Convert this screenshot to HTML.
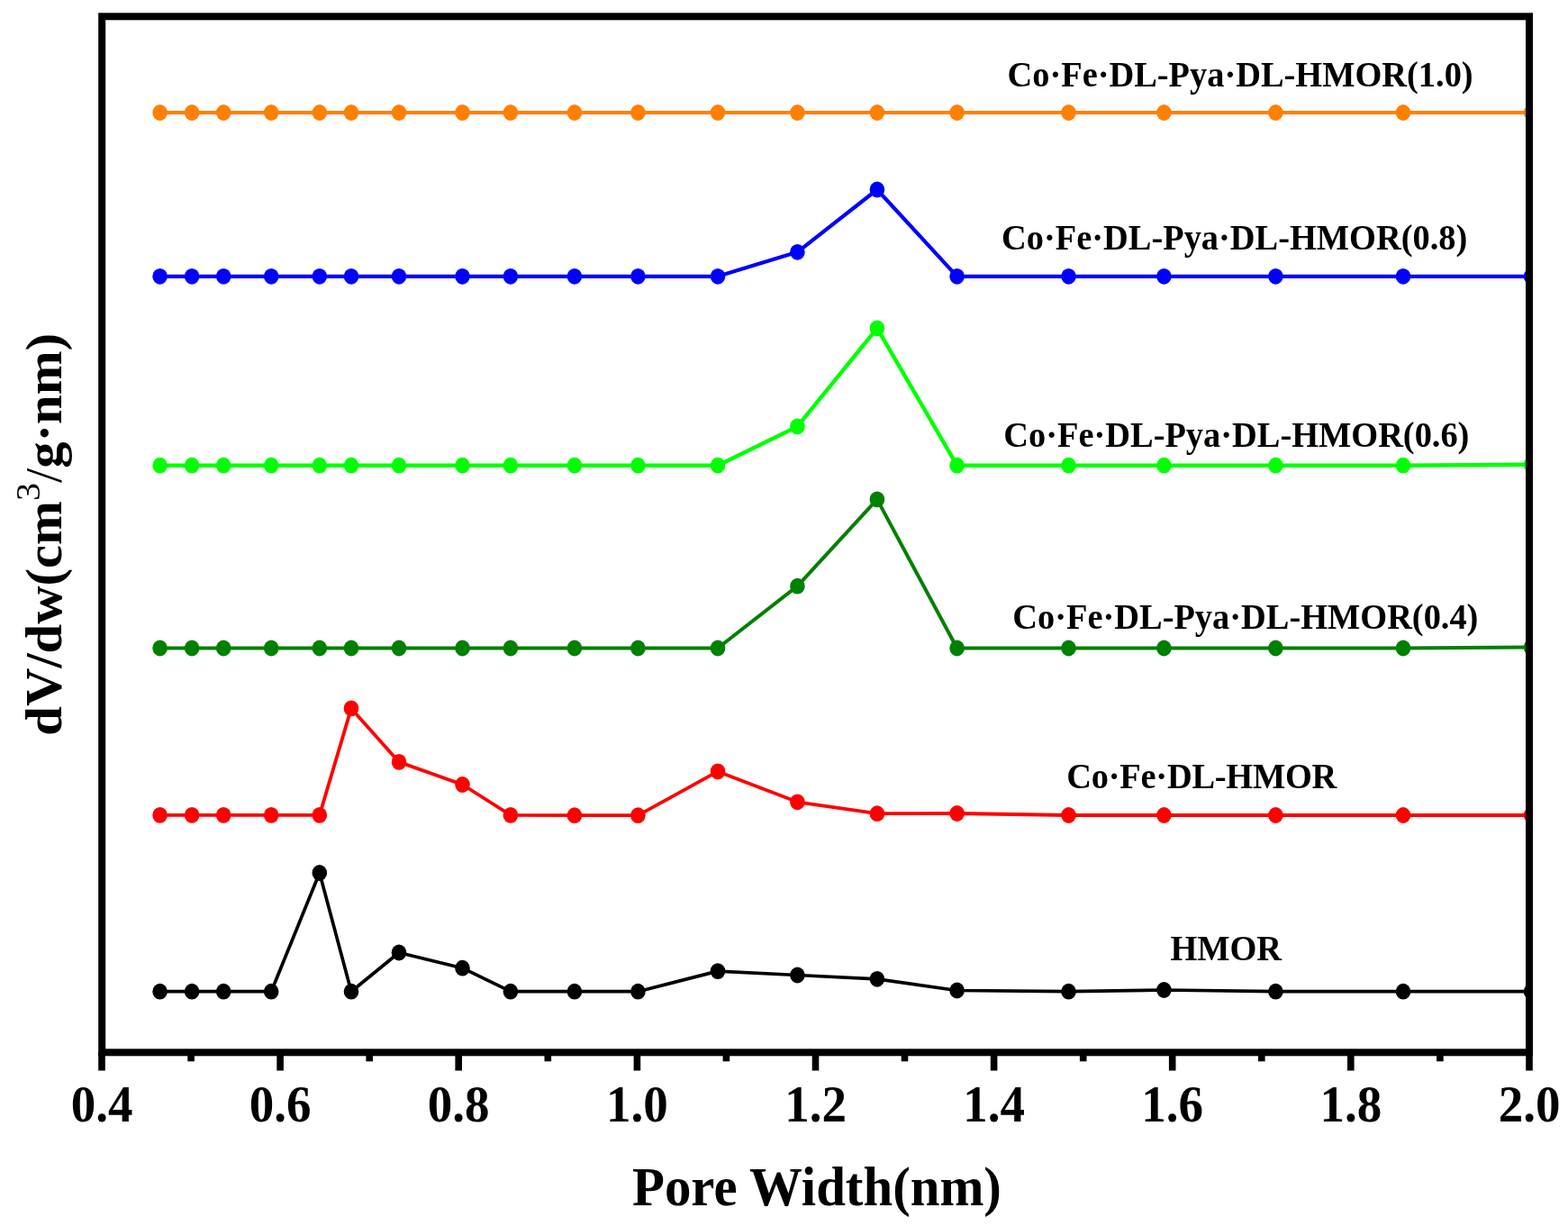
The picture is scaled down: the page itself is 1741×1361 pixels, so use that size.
<!DOCTYPE html>
<html><head><meta charset="utf-8"><style>
html,body{margin:0;padding:0;background:#fff;width:1741px;height:1361px;overflow:hidden}
svg{display:block}
text{font-family:"Liberation Serif","Times New Roman",serif;font-weight:bold;fill:#000}
</style></head><body>
<svg width="1741" height="1361" viewBox="0 0 1741 1361">
<clipPath id="c"><rect x="113" y="18" width="1585" height="1150"/></clipPath>
<g clip-path="url(#c)">
<polyline points="177.6,125.0 213.1,125.0 248.2,125.0 301.2,125.0 354.8,125.0 390.0,125.0 443.0,125.0 513.5,125.0 566.9,125.0 637.9,125.0 708.4,125.0 797.0,125.0 885.4,125.0 973.9,125.0 1062.6,125.0 1186.5,125.0 1292.4,125.0 1416.4,125.0 1558.0,125.0 1700.0,125.0" fill="none" stroke="#ff8000" stroke-width="4.0" stroke-linejoin="round"/>
<g fill="#ff8000"><ellipse cx="177.6" cy="125.0" rx="8.3" ry="8.9"/><ellipse cx="213.1" cy="125.0" rx="8.3" ry="8.9"/><ellipse cx="248.2" cy="125.0" rx="8.3" ry="8.9"/><ellipse cx="301.2" cy="125.0" rx="8.3" ry="8.9"/><ellipse cx="354.8" cy="125.0" rx="8.3" ry="8.9"/><ellipse cx="390.0" cy="125.0" rx="8.3" ry="8.9"/><ellipse cx="443.0" cy="125.0" rx="8.3" ry="8.9"/><ellipse cx="513.5" cy="125.0" rx="8.3" ry="8.9"/><ellipse cx="566.9" cy="125.0" rx="8.3" ry="8.9"/><ellipse cx="637.9" cy="125.0" rx="8.3" ry="8.9"/><ellipse cx="708.4" cy="125.0" rx="8.3" ry="8.9"/><ellipse cx="797.0" cy="125.0" rx="8.3" ry="8.9"/><ellipse cx="885.4" cy="125.0" rx="8.3" ry="8.9"/><ellipse cx="973.9" cy="125.0" rx="8.3" ry="8.9"/><ellipse cx="1062.6" cy="125.0" rx="8.3" ry="8.9"/><ellipse cx="1186.5" cy="125.0" rx="8.3" ry="8.9"/><ellipse cx="1292.4" cy="125.0" rx="8.3" ry="8.9"/><ellipse cx="1416.4" cy="125.0" rx="8.3" ry="8.9"/><ellipse cx="1558.0" cy="125.0" rx="8.3" ry="8.9"/><ellipse cx="1700.0" cy="125.0" rx="8.3" ry="8.9"/></g>
<polyline points="177.6,306.8 213.1,306.8 248.2,306.8 301.2,306.8 354.8,306.8 390.0,306.8 443.0,306.8 513.5,306.8 566.9,306.8 637.9,306.8 708.4,306.8 797.0,306.8 885.4,279.8 973.9,210.5 1062.6,306.8 1186.5,306.8 1292.4,306.8 1416.4,306.8 1558.0,306.8 1700.0,306.8" fill="none" stroke="#0000ff" stroke-width="4.2" stroke-linejoin="round"/>
<g fill="#0000ff"><ellipse cx="177.6" cy="306.8" rx="8.3" ry="8.9"/><ellipse cx="213.1" cy="306.8" rx="8.3" ry="8.9"/><ellipse cx="248.2" cy="306.8" rx="8.3" ry="8.9"/><ellipse cx="301.2" cy="306.8" rx="8.3" ry="8.9"/><ellipse cx="354.8" cy="306.8" rx="8.3" ry="8.9"/><ellipse cx="390.0" cy="306.8" rx="8.3" ry="8.9"/><ellipse cx="443.0" cy="306.8" rx="8.3" ry="8.9"/><ellipse cx="513.5" cy="306.8" rx="8.3" ry="8.9"/><ellipse cx="566.9" cy="306.8" rx="8.3" ry="8.9"/><ellipse cx="637.9" cy="306.8" rx="8.3" ry="8.9"/><ellipse cx="708.4" cy="306.8" rx="8.3" ry="8.9"/><ellipse cx="797.0" cy="306.8" rx="8.3" ry="8.9"/><ellipse cx="885.4" cy="279.8" rx="8.3" ry="8.9"/><ellipse cx="973.9" cy="210.5" rx="8.3" ry="8.9"/><ellipse cx="1062.6" cy="306.8" rx="8.3" ry="8.9"/><ellipse cx="1186.5" cy="306.8" rx="8.3" ry="8.9"/><ellipse cx="1292.4" cy="306.8" rx="8.3" ry="8.9"/><ellipse cx="1416.4" cy="306.8" rx="8.3" ry="8.9"/><ellipse cx="1558.0" cy="306.8" rx="8.3" ry="8.9"/><ellipse cx="1700.0" cy="306.8" rx="8.3" ry="8.9"/></g>
<polyline points="177.6,516.7 213.1,516.7 248.2,516.7 301.2,516.7 354.8,516.7 390.0,516.7 443.0,516.7 513.5,516.7 566.9,516.7 637.9,516.7 708.4,516.7 797.0,516.7 885.4,473.4 973.9,364.4 1062.6,516.7 1186.5,516.7 1292.4,516.7 1416.4,516.7 1558.0,516.7 1700.0,515.8" fill="none" stroke="#00ff00" stroke-width="4.4" stroke-linejoin="round"/>
<g fill="#00ff00"><ellipse cx="177.6" cy="516.7" rx="8.3" ry="8.9"/><ellipse cx="213.1" cy="516.7" rx="8.3" ry="8.9"/><ellipse cx="248.2" cy="516.7" rx="8.3" ry="8.9"/><ellipse cx="301.2" cy="516.7" rx="8.3" ry="8.9"/><ellipse cx="354.8" cy="516.7" rx="8.3" ry="8.9"/><ellipse cx="390.0" cy="516.7" rx="8.3" ry="8.9"/><ellipse cx="443.0" cy="516.7" rx="8.3" ry="8.9"/><ellipse cx="513.5" cy="516.7" rx="8.3" ry="8.9"/><ellipse cx="566.9" cy="516.7" rx="8.3" ry="8.9"/><ellipse cx="637.9" cy="516.7" rx="8.3" ry="8.9"/><ellipse cx="708.4" cy="516.7" rx="8.3" ry="8.9"/><ellipse cx="797.0" cy="516.7" rx="8.3" ry="8.9"/><ellipse cx="885.4" cy="473.4" rx="8.3" ry="8.9"/><ellipse cx="973.9" cy="364.4" rx="8.3" ry="8.9"/><ellipse cx="1062.6" cy="516.7" rx="8.3" ry="8.9"/><ellipse cx="1186.5" cy="516.7" rx="8.3" ry="8.9"/><ellipse cx="1292.4" cy="516.7" rx="8.3" ry="8.9"/><ellipse cx="1416.4" cy="516.7" rx="8.3" ry="8.9"/><ellipse cx="1558.0" cy="516.7" rx="8.3" ry="8.9"/><ellipse cx="1700.0" cy="515.8" rx="8.3" ry="8.9"/></g>
<polyline points="177.6,719.5 213.1,719.5 248.2,719.5 301.2,719.5 354.8,719.5 390.0,719.5 443.0,719.5 513.5,719.5 566.9,719.5 637.9,719.5 708.4,719.5 797.0,719.5 885.4,650.7 973.9,554.4 1062.6,719.5 1186.5,719.5 1292.4,719.5 1416.4,719.5 1558.0,719.5 1700.0,718.6" fill="none" stroke="#008000" stroke-width="4.0" stroke-linejoin="round"/>
<g fill="#008000"><ellipse cx="177.6" cy="719.5" rx="8.3" ry="8.9"/><ellipse cx="213.1" cy="719.5" rx="8.3" ry="8.9"/><ellipse cx="248.2" cy="719.5" rx="8.3" ry="8.9"/><ellipse cx="301.2" cy="719.5" rx="8.3" ry="8.9"/><ellipse cx="354.8" cy="719.5" rx="8.3" ry="8.9"/><ellipse cx="390.0" cy="719.5" rx="8.3" ry="8.9"/><ellipse cx="443.0" cy="719.5" rx="8.3" ry="8.9"/><ellipse cx="513.5" cy="719.5" rx="8.3" ry="8.9"/><ellipse cx="566.9" cy="719.5" rx="8.3" ry="8.9"/><ellipse cx="637.9" cy="719.5" rx="8.3" ry="8.9"/><ellipse cx="708.4" cy="719.5" rx="8.3" ry="8.9"/><ellipse cx="797.0" cy="719.5" rx="8.3" ry="8.9"/><ellipse cx="885.4" cy="650.7" rx="8.3" ry="8.9"/><ellipse cx="973.9" cy="554.4" rx="8.3" ry="8.9"/><ellipse cx="1062.6" cy="719.5" rx="8.3" ry="8.9"/><ellipse cx="1186.5" cy="719.5" rx="8.3" ry="8.9"/><ellipse cx="1292.4" cy="719.5" rx="8.3" ry="8.9"/><ellipse cx="1416.4" cy="719.5" rx="8.3" ry="8.9"/><ellipse cx="1558.0" cy="719.5" rx="8.3" ry="8.9"/><ellipse cx="1700.0" cy="718.6" rx="8.3" ry="8.9"/></g>
<polyline points="177.6,904.9 213.1,904.9 248.2,904.9 301.2,904.9 354.8,904.9 390.0,786.4 443.0,845.9 513.5,871.0 566.9,904.9 637.9,905.2 708.4,905.2 797.0,856.4 885.4,890.3 973.9,903.2 1062.6,903.0 1186.5,905.0 1292.4,905.0 1416.4,905.0 1558.0,905.0 1700.0,905.0" fill="none" stroke="#ff0000" stroke-width="3.8" stroke-linejoin="round"/>
<g fill="#ff0000"><ellipse cx="177.6" cy="904.9" rx="8.3" ry="8.9"/><ellipse cx="213.1" cy="904.9" rx="8.3" ry="8.9"/><ellipse cx="248.2" cy="904.9" rx="8.3" ry="8.9"/><ellipse cx="301.2" cy="904.9" rx="8.3" ry="8.9"/><ellipse cx="354.8" cy="904.9" rx="8.3" ry="8.9"/><ellipse cx="390.0" cy="786.4" rx="8.3" ry="8.9"/><ellipse cx="443.0" cy="845.9" rx="8.3" ry="8.9"/><ellipse cx="513.5" cy="871.0" rx="8.3" ry="8.9"/><ellipse cx="566.9" cy="904.9" rx="8.3" ry="8.9"/><ellipse cx="637.9" cy="905.2" rx="8.3" ry="8.9"/><ellipse cx="708.4" cy="905.2" rx="8.3" ry="8.9"/><ellipse cx="797.0" cy="856.4" rx="8.3" ry="8.9"/><ellipse cx="885.4" cy="890.3" rx="8.3" ry="8.9"/><ellipse cx="973.9" cy="903.2" rx="8.3" ry="8.9"/><ellipse cx="1062.6" cy="903.0" rx="8.3" ry="8.9"/><ellipse cx="1186.5" cy="905.0" rx="8.3" ry="8.9"/><ellipse cx="1292.4" cy="905.0" rx="8.3" ry="8.9"/><ellipse cx="1416.4" cy="905.0" rx="8.3" ry="8.9"/><ellipse cx="1558.0" cy="905.0" rx="8.3" ry="8.9"/><ellipse cx="1700.0" cy="905.0" rx="8.3" ry="8.9"/></g>
<polyline points="177.6,1100.7 213.1,1100.7 248.2,1100.7 301.2,1100.7 354.8,969.0 390.0,1100.7 443.0,1057.5 513.5,1074.7 566.9,1100.7 637.9,1100.7 708.4,1100.7 797.0,1078.1 885.4,1082.5 973.9,1086.8 1062.6,1099.5 1186.5,1100.7 1292.4,1099.0 1416.4,1100.7 1558.0,1100.7 1700.0,1100.7" fill="none" stroke="#000000" stroke-width="3.7" stroke-linejoin="round"/>
<g fill="#000000"><ellipse cx="177.6" cy="1100.7" rx="8.3" ry="8.9"/><ellipse cx="213.1" cy="1100.7" rx="8.3" ry="8.9"/><ellipse cx="248.2" cy="1100.7" rx="8.3" ry="8.9"/><ellipse cx="301.2" cy="1100.7" rx="8.3" ry="8.9"/><ellipse cx="354.8" cy="969.0" rx="8.3" ry="8.9"/><ellipse cx="390.0" cy="1100.7" rx="8.3" ry="8.9"/><ellipse cx="443.0" cy="1057.5" rx="8.3" ry="8.9"/><ellipse cx="513.5" cy="1074.7" rx="8.3" ry="8.9"/><ellipse cx="566.9" cy="1100.7" rx="8.3" ry="8.9"/><ellipse cx="637.9" cy="1100.7" rx="8.3" ry="8.9"/><ellipse cx="708.4" cy="1100.7" rx="8.3" ry="8.9"/><ellipse cx="797.0" cy="1078.1" rx="8.3" ry="8.9"/><ellipse cx="885.4" cy="1082.5" rx="8.3" ry="8.9"/><ellipse cx="973.9" cy="1086.8" rx="8.3" ry="8.9"/><ellipse cx="1062.6" cy="1099.5" rx="8.3" ry="8.9"/><ellipse cx="1186.5" cy="1100.7" rx="8.3" ry="8.9"/><ellipse cx="1292.4" cy="1099.0" rx="8.3" ry="8.9"/><ellipse cx="1416.4" cy="1100.7" rx="8.3" ry="8.9"/><ellipse cx="1558.0" cy="1100.7" rx="8.3" ry="8.9"/><ellipse cx="1700.0" cy="1100.7" rx="8.3" ry="8.9"/></g>
</g>
<rect x="113.2" y="18.3" width="1584.8" height="1150" fill="none" stroke="#000" stroke-width="8"/>
<path d="M113.0,1168V1188.5M212.1,1168V1178.3M311.1,1168V1188.5M410.2,1168V1178.3M509.2,1168V1188.5M608.3,1168V1178.3M707.4,1168V1188.5M806.4,1168V1178.3M905.5,1168V1188.5M1004.5,1168V1178.3M1103.6,1168V1188.5M1202.7,1168V1178.3M1301.7,1168V1188.5M1400.8,1168V1178.3M1499.8,1168V1188.5M1598.9,1168V1178.3M1698.0,1168V1188.5" stroke="#000" stroke-width="7.6" fill="none"/>
<g font-size="55" text-anchor="middle"><text transform="translate(113.0,1244.8) scale(1,1.03)">0.4</text><text transform="translate(311.1,1244.8) scale(1,1.03)">0.6</text><text transform="translate(509.2,1244.8) scale(1,1.03)">0.8</text><text transform="translate(707.4,1244.8) scale(1,1.03)">1.0</text><text transform="translate(905.5,1244.8) scale(1,1.03)">1.2</text><text transform="translate(1103.6,1244.8) scale(1,1.03)">1.4</text><text transform="translate(1301.7,1244.8) scale(1,1.03)">1.6</text><text transform="translate(1499.8,1244.8) scale(1,1.03)">1.8</text><text transform="translate(1698.0,1244.8) scale(1,1.03)">2.0</text></g>
<text transform="translate(907,1337.7) scale(1,1.03)" font-size="58.8" text-anchor="middle">Pore Width(nm)</text>
<text transform="translate(67.7,593.3) rotate(-90) scale(1.04,1)" font-size="56.4" text-anchor="middle">dV/dw(cm<tspan font-size="38.5" font-weight="normal" dy="-24">3</tspan><tspan dy="24" font-weight="normal">/</tspan>g·nm)</text>
<g font-size="38.4"><text transform="translate(1118.5,96.0) scale(1,1.03)">Co·Fe·DL-Pya·DL-HMOR(1.0)</text><text transform="translate(1112.1,277.0) scale(1,1.03)">Co·Fe·DL-Pya·DL-HMOR(0.8)</text><text transform="translate(1114.3,496.0) scale(1,1.03)">Co·Fe·DL-Pya·DL-HMOR(0.6)</text><text transform="translate(1124.3,697.5) scale(1,1.03)">Co·Fe·DL-Pya·DL-HMOR(0.4)</text><text transform="translate(1184.3,874.6) scale(1,1.03)" textLength="300" lengthAdjust="spacing">Co·Fe·DL-HMOR</text><text transform="translate(1299.4,1066.0) scale(1,1.03)">HMOR</text></g>
</svg>
</body></html>
